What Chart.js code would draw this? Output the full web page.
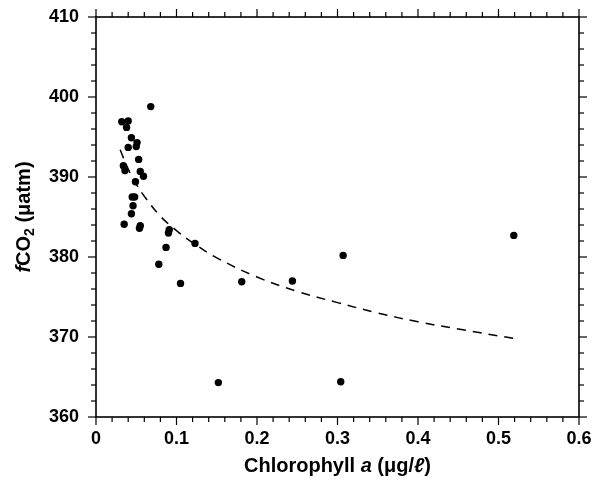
<!DOCTYPE html>
<html><head><meta charset="utf-8">
<script src="https://cdn.jsdelivr.net/npm/chart.js@4/dist/chart.umd.min.js"></script>
<style>html,body{margin:0;padding:0;background:#fff}#wrap{width:599px;height:484px}</style>
</head><body>
<div id="wrap"><canvas id="c" width="599" height="484"></canvas></div>
<script>
// Observed points: chlorophyll a (µg/l) vs fCO2 (µatm)
const chlorophyll = [0.032,0.040,0.038,0.068,0.044,0.051,0.040,0.050,0.053,0.034,0.036,0.055,0.059,0.049,0.045,0.048,0.046,0.044,0.035,0.055,0.054,0.091,0.090,0.087,0.123,0.078,0.105,0.181,0.244,0.307,0.519,0.152,0.304];
const fco2 =        [396.9,397.0,396.2,398.8,394.9,394.3,393.7,393.8,392.2,391.4,390.8,390.7,390.1,389.4,387.5,387.5,386.4,385.4,384.1,383.9,383.6,383.4,383.0,381.2,381.7,379.1,376.7,376.9,377.0,380.2,382.7,364.3,364.4];
// Dashed fitted curve
const curveChl  = [0.03,0.04,0.05,0.06,0.08,0.10,0.12,0.15,0.20,0.25,0.30,0.35,0.40,0.45,0.52];
const curveFco2 = [393.4,391.0,389.1,387.6,385.1,383.3,381.8,379.9,377.5,375.7,374.3,373.0,371.9,371.0,369.8];
const xTickLabels = ['0','0.1','0.2','0.3','0.4','0.5','0.6'];
const yTickLabels = ['360','370','380','390','400','410'];
const xTitleParts = [['Chlorophyll ',''],['a','italic '],[' (\u03bcg/',''],['\u2113','italic '],[')','']];
const yTitleParts = [['f','italic '],['CO',''],['2','sub'],[' (\u03bcatm)','']];

const FONT = '"Liberation Sans", Arial, Helvetica, sans-serif';

function drawParts(ctx, parts, cx, cy, size){
  const fontOf = (st, s) => (st==='italic ' ? 'italic ' : '') + 'bold ' + s + 'px ' + FONT;
  let total = 0;
  const widths = parts.map(([t,st]) => {
    ctx.font = fontOf(st, st==='sub' ? size*0.7 : size);
    const w = ctx.measureText(t).width; total += w; return w;
  });
  let x = cx - total/2;
  ctx.textBaseline = 'middle'; ctx.textAlign = 'left';
  parts.forEach(([t,st],i) => {
    ctx.font = fontOf(st, st==='sub' ? size*0.7 : size);
    ctx.fillText(t, x, st==='sub' ? cy + size*0.3 : cy);
    x += widths[i];
  });
}

const frame = {
  id: 'frame',
  afterDraw(chart){
    const {ctx, chartArea:a, scales:{x, y}} = chart;
    ctx.save();
    ctx.strokeStyle = '#000'; ctx.fillStyle = '#000';
    ctx.lineWidth = 1.6;
    ctx.strokeRect(a.left, a.top, a.right - a.left, a.bottom - a.top);
    ctx.lineWidth = 1.2;
    const seg = (x1,y1,x2,y2) => { ctx.beginPath(); ctx.moveTo(x1,y1); ctx.lineTo(x2,y2); ctx.stroke(); };
    for (let i = 0; i <= 30; i++) {
      const px = x.getPixelForValue(i*0.02);
      const L = i % 5 === 0 ? 8 : 5;
      seg(px, a.bottom, px, a.bottom + L);
      seg(px, a.top, px, a.top - L);
    }
    for (let i = 0; i <= 25; i++) {
      const py = y.getPixelForValue(360 + i*2);
      const L = i % 5 === 0 ? 8 : 5;
      seg(a.left, py, a.left - L, py);
      seg(a.right, py, a.right + L, py);
    }
    // axis titles
    drawParts(ctx, xTitleParts, (a.left + a.right)/2, 466, 20);
    ctx.translate(24, (a.top + a.bottom)/2);
    ctx.rotate(-Math.PI/2);
    drawParts(ctx, yTitleParts, 0, 0, 20);
    ctx.restore();
  }
};

new Chart(document.getElementById('c'), {
  type: 'scatter',
  data: {
    datasets: [
      {
        label: 'fCO2',
        data: chlorophyll.map((v,i) => ({x: v, y: fco2[i]})),
        backgroundColor: '#000', borderColor: '#000',
        pointRadius: 3.7, pointHoverRadius: 3.7, pointBorderWidth: 0
      },
      {
        label: 'fit',
        data: curveChl.map((v,i) => ({x: v, y: curveFco2[i]})),
        showLine: true, borderColor: '#000', borderWidth: 1.5,
        borderDash: [9, 7], pointRadius: 0, tension: 0.4, fill: false
      }
    ]
  },
  options: {
    responsive: false, animation: false,
    layout: {padding: {top: 17, right: 20, left: 0, bottom: 0}},
    plugins: {legend: {display: false}, tooltip: {enabled: false}},
    scales: {
      x: {
        type: 'linear', min: 0, max: 0.6,
        afterFit: s => { s.height = 67; s.paddingLeft = 0; s.paddingRight = 0; },
        afterBuildTicks: s => { s.ticks = xTickLabels.map(t => ({value: parseFloat(t)})); },
        ticks: {
          callback: (v, i) => xTickLabels[i],
          font: {family: FONT, size: 18, weight: 'bold'}, color: '#000', padding: 11, maxRotation: 0
        },
        grid: {display: false, drawTicks: false}, border: {display: false}
      },
      y: {
        type: 'linear', min: 360, max: 410,
        afterFit: s => { s.width = 96; s.paddingTop = 0; s.paddingBottom = 0; },
        afterBuildTicks: s => { s.ticks = yTickLabels.map(t => ({value: parseFloat(t)})); },
        ticks: {
          callback: (v, i) => yTickLabels[i],
          font: {family: FONT, size: 18, weight: 'bold'}, color: '#000', padding: 17
        },
        grid: {display: false, drawTicks: false}, border: {display: false}
      }
    }
  },
  plugins: [frame]
});
</script>
</body></html>
